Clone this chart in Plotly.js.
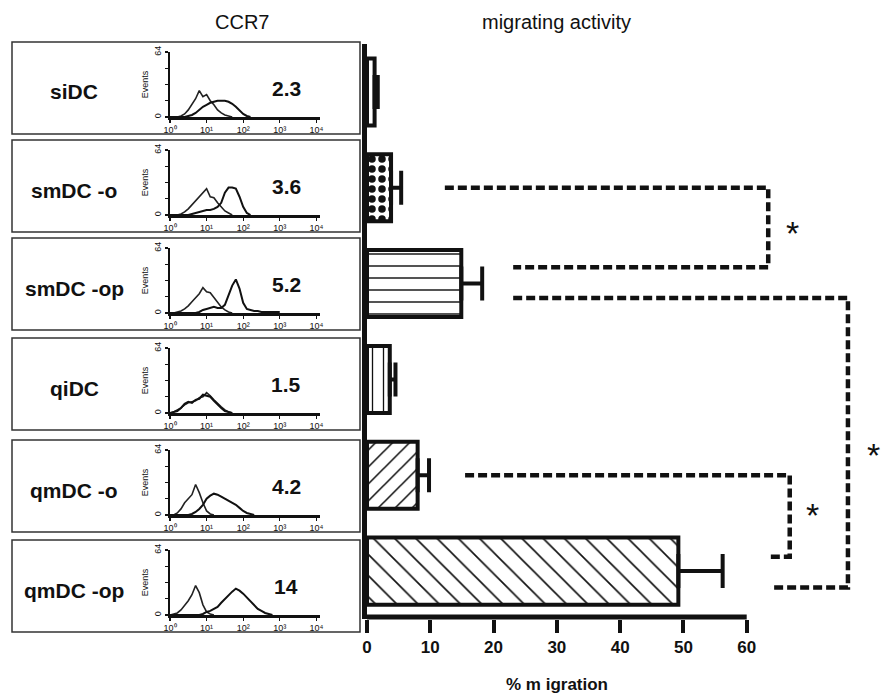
<!DOCTYPE html>
<html>
<head>
<meta charset="utf-8">
<script src="https://cdn.plot.ly/plotly-3.0.1.min.js"></script>
<style>
  html, body { margin: 0; padding: 0; background: #fff; }
  #chart { width: 890px; height: 693px; }
</style>
</head>
<body>
<div id="chart"></div>
<script>
// ---- data ---------------------------------------------------------------
// dendritic-cell populations, top to bottom
const populations = ['siDC', 'smDC-o', 'smDC-op', 'qiDC', 'qmDC-o', 'qmDC-op'];
const populationLabels = ['siDC', 'smDC -o', 'smDC -op', 'qiDC', 'qmDC -o', 'qmDC -op'];
// CCR7 staining index printed in each histogram
const ccr7Index = ['2.3', '3.6', '5.2', '1.5', '4.2', '14'];
// transwell migration (% of input), mean and upper error
const migration    = [1.2, 3.8, 14.9, 3.6, 8.0, 49.2];
const migrationErr = [0.5, 1.6, 3.3, 0.9, 1.8, 7.0];
// significant pairwise comparisons (indices into populations)
const comparisons = [[1, 2], [2, 5], [4, 5]];

// histogram bins: log10 fluorescence intensity
const bins = [0.0, 0.1, 0.2, 0.3, 0.4, 0.5, 0.6, 0.7, 0.8, 0.9, 1.0, 1.1, 1.2, 1.3, 1.4, 1.5,
              1.6, 1.7, 1.8, 1.9, 2.0, 2.1, 2.2, 2.3, 2.4, 2.5, 2.6, 2.7, 2.8, 2.9, 3.0];
// events per bin, isotype control and anti-CCR7
const isoSiDC    = [0, 0, 0, 1, 3, 7, 12, 18, 26, 20, 22, 16, 12, 7, 4, 2, 1, 0];
const ccr7SiDC   = [0, 0, 0, 0, 0, 1, 2, 4, 7, 10, 12, 14, 15, 16, 16, 16, 15, 13, 10, 6, 3, 1, 0];
const isoSmDCo   = [0, 0, 0, 1, 3, 6, 10, 14, 19, 22, 26, 18, 17, 12, 8, 4, 2, 0];
const ccr7SmDCo  = [0, 0, 0, 0, 0, 0, 1, 2, 3, 4, 5, 5, 6, 8, 12, 22, 27, 27, 26, 18, 8, 2, 0];
const isoSmDCop  = [0, 0, 1, 2, 4, 7, 11, 15, 19, 25, 21, 20, 15, 10, 6, 3, 1, 0];
const ccr7SmDCop = [0, 0, 0, 0, 0, 0, 0, 0, 1, 3, 4, 5, 6, 5, 5, 8, 18, 27, 33, 24, 10, 4, 3, 2, 2, 1, 1, 1, 1, 1, 1];
const isoQiDC    = [0, 1, 3, 5, 8, 10, 11, 12, 15, 16, 20, 17, 13, 9, 6, 3, 1, 0];
const ccr7QiDC   = [0, 1, 2, 5, 9, 11, 10, 13, 14, 18, 17, 16, 12, 8, 5, 2, 1, 0];
const isoQmDCo   = [0, 0, 2, 6, 12, 16, 20, 30, 22, 12, 4, 1, 0];
const ccr7QmDCo  = [0, 0, 0, 0, 0, 0, 1, 3, 6, 10, 16, 19, 21, 20, 18, 16, 14, 12, 10, 7, 4, 2, 1, 0];
const isoQmDCop  = [0, 1, 2, 5, 9, 14, 20, 29, 22, 10, 3, 1, 0];
const ccr7QmDCop = [0, 0, 0, 0, 0, 0, 0, 0, 0, 1, 3, 4, 6, 8, 12, 16, 20, 23, 26, 24, 21, 17, 13, 9, 6, 4, 2, 1, 0];

const isotypeCounts = [isoSiDC, isoSmDCo, isoSmDCop, isoQiDC, isoQmDCo, isoQmDCop];
const ccr7Counts    = [ccr7SiDC, ccr7SmDCo, ccr7SmDCop, ccr7QiDC, ccr7QmDCo, ccr7QmDCop];

const migrationTicks = [0, 10, 20, 30, 40, 50, 60];
const decadeTicks = [0, 1, 2, 3, 4];
const decadeLabels = ['10\u2070', '10\u00B9', '10\u00B2', '10\u00B3', '10\u2074'];
const eventTicks = [0, 64];
const eventMinorTicks = [16, 32, 48];

// ---- page geometry ------------------------------------------------------
const W = 890, H = 693;
const FONT = 'Liberation Sans, Arial, Helvetica, sans-serif';
const INK = '#111';
const px = v => v / W;          // pixel column -> paper x
const py = v => 1 - v / H;      // pixel row    -> paper y

// bar panel
const barLeft = 367, barTop = 44, barBottom = 619;
const pxPerPercent = (746.7 - barLeft) / 60;
const barRange = [0, (W - barLeft) / pxPerPercent];

// left panels with the CCR7 histograms
const boxTop = [42, 140, 238, 338, 440, 540];
const boxHeight = 92, boxLeft = 12, boxRight = 360;

// ---- traces -------------------------------------------------------------
const traces = [];

traces.push({
  type: 'bar',
  orientation: 'h',
  x: migration,
  y: populations.map((_, i) => i),
  width: 0.7,
  marker: {
    color: 'white',
    line: { color: INK, width: 4 },
    pattern: {
      shape: ['', '.', '-', '|', '/', '\\'],
      size: [6, 10, 12, 11, 12, 15],
      solidity: [0.1, 0.45, 0.12, 0.12, 0.13, 0.11],
      fgcolor: INK,
      bgcolor: 'white',
      fillmode: 'replace'
    }
  },
  error_x: {
    type: 'data',
    symmetric: false,
    array: migrationErr,
    arrayminus: migrationErr.map(() => 0),
    color: INK,
    thickness: 4,
    width: 17
  },
  hoverinfo: 'skip',
  showlegend: false
});

// significance brackets: upper arm start, lower arm start, vertical position, row offsets
const bracketGeom = [
  { xa: 12.3, xb: 23.1, xr: 63.4, da: 0.0,  db: -0.17, star: { x: 67.3, y: 1.39 } },
  { xa: 23.1, xb: 63.7, xr: 76.0, da: 0.15, db: 0.17,  star: { x: 80.0, y: 3.71 } },
  { xa: 15.5, xb: 63.7, xr: 66.8, da: 0.0,  db: -0.15, star: { x: 70.4, y: 4.33 } }
];
comparisons.forEach(([a, b], k) => {
  const g = bracketGeom[k];
  traces.push({
    type: 'scatter',
    mode: 'lines',
    x: [g.xa, g.xr, g.xr, g.xb],
    y: [a + g.da, a + g.da, b + g.db, b + g.db],
    line: { color: INK, width: 4.5, dash: '9px,4px' },
    hoverinfo: 'skip',
    showlegend: false
  });
});

// CCR7 histograms
populations.forEach((p, i) => {
  const ax = i + 2;
  traces.push({
    type: 'scatter', mode: 'lines',
    x: bins, y: isotypeCounts[i],
    xaxis: 'x' + ax, yaxis: 'y' + ax,
    line: { color: '#222', width: 1.6 },
    hoverinfo: 'skip', showlegend: false
  });
  traces.push({
    type: 'scatter', mode: 'lines',
    x: bins, y: ccr7Counts[i],
    xaxis: 'x' + ax, yaxis: 'y' + ax,
    line: { color: INK, width: 2 },
    hoverinfo: 'skip', showlegend: false
  });
});

// ---- layout -------------------------------------------------------------
const layout = {
  width: W, height: H,
  margin: { l: 0, r: 0, t: 0, b: 0 },
  paper_bgcolor: 'white',
  plot_bgcolor: 'rgba(0,0,0,0)',
  font: { family: FONT, color: INK },
  showlegend: false,
  xaxis: {
    domain: [px(barLeft), 1],
    range: barRange,
    tickvals: migrationTicks,
    ticks: 'outside', ticklen: 13, tickwidth: 4, tickcolor: INK,
    tickfont: { size: 17, weight: 700, color: INK },
    showline: false, showgrid: false, zeroline: false,
    fixedrange: true
  },
  yaxis: {
    domain: [py(barBottom), py(barTop)],
    range: [populations.length - 0.5, -0.5],
    showline: true, linewidth: 5, linecolor: INK,
    showticklabels: false, ticks: '',
    showgrid: false, zeroline: false,
    fixedrange: true
  },
  shapes: [],
  annotations: []
};

// x axis line of the bar panel, stopping at the last tick
layout.shapes.push({
  type: 'line', xref: 'x', yref: 'paper',
  x0: 0, x1: migrationTicks[migrationTicks.length - 1],
  y0: py(617), y1: py(617),
  line: { color: INK, width: 5 }
});

populations.forEach((p, i) => {
  const ax = i + 2;
  const top = boxTop[i];
  layout['xaxis' + ax] = {
    domain: [px(170), px(320)],
    range: [0, 4.1],
    anchor: 'y' + ax,
    tickvals: decadeTicks, ticktext: decadeLabels,
    ticks: 'outside', ticklen: 3, tickwidth: 1.2, tickcolor: INK,
    tickfont: { size: 9, color: INK },
    showline: true, linewidth: 2.5, linecolor: INK,
    showgrid: false, zeroline: false, fixedrange: true
  };
  layout['yaxis' + ax] = {
    domain: [py(top + 75), py(top + 10)],
    range: [0, 64],
    anchor: 'x' + ax,
    tickvals: eventTicks,
    minor: { tickvals: eventMinorTicks, ticks: 'outside', ticklen: 3, tickwidth: 1.2, tickcolor: INK },
    tickangle: -90,
    ticks: 'outside', ticklen: 3, tickwidth: 1.2, tickcolor: INK,
    tickfont: { size: 9, color: INK },
    title: { text: 'Events', font: { size: 9, color: INK }, standoff: 3 },
    showline: true, linewidth: 2.5, linecolor: INK,
    showgrid: false, zeroline: false, fixedrange: true
  };

  layout.shapes.push({
    type: 'rect', xref: 'paper', yref: 'paper',
    x0: px(boxLeft), x1: px(boxRight),
    y0: py(top + boxHeight), y1: py(top),
    line: { color: '#333', width: 1.5 }
  });

  layout.annotations.push({
    xref: 'paper', yref: 'paper',
    x: px(74), y: py(top + 50),
    text: '<b>' + populationLabels[i] + '</b>',
    showarrow: false, xanchor: 'center', yanchor: 'middle',
    font: { size: 21, family: FONT, color: INK }
  });
  layout.annotations.push({
    xref: 'paper', yref: 'paper',
    x: px(286), y: py(top + 46),
    text: '<b>' + ccr7Index[i] + '</b>',
    showarrow: false, xanchor: 'center', yanchor: 'middle',
    font: { size: 21, family: FONT, color: INK }
  });
});

// panel headers
layout.annotations.push({
  xref: 'paper', yref: 'paper', x: px(242), y: py(22),
  text: 'CCR7', showarrow: false, xanchor: 'center', yanchor: 'middle',
  font: { size: 20, family: FONT, color: INK }
});
layout.annotations.push({
  xref: 'paper', yref: 'paper', x: px(556), y: py(22),
  text: 'migrating activity', showarrow: false, xanchor: 'center', yanchor: 'middle',
  font: { size: 20, family: FONT, color: INK }
});
// x axis title centred under the 0-60 scale
layout.annotations.push({
  xref: 'x', yref: 'paper', x: 30, y: py(684),
  text: '<b>% m igration</b>', showarrow: false, xanchor: 'center', yanchor: 'middle',
  font: { size: 17, family: FONT, color: INK }
});
// significance stars
bracketGeom.forEach(g => {
  layout.annotations.push({
    xref: 'x', yref: 'y', x: g.star.x, y: g.star.y,
    text: '*', showarrow: false, xanchor: 'center', yanchor: 'middle',
    yshift: -8,
    font: { size: 34, family: FONT, color: INK }
  });
});

Plotly.newPlot('chart', traces, layout, { staticPlot: true, displayModeBar: false });
</script>
</body>
</html>
